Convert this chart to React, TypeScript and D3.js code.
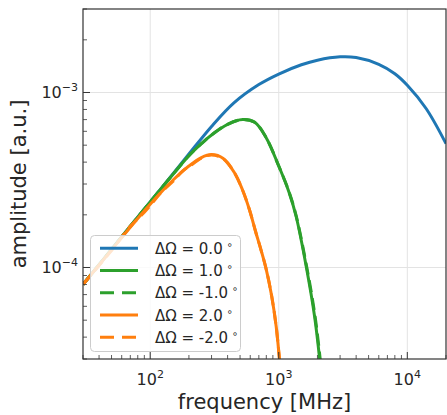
import React from "react";
import * as d3 from "d3";

// ---- data ----
const freq00 = [30, 50, 70, 100, 150, 200, 300, 450, 700, 1000, 1500, 2000, 3000, 4000, 6000, 8000, 10000, 14000, 20000];
const amp00 = [8.0e-5, 1.27e-4, 1.72e-4, 2.37e-4, 3.42e-4, 4.45e-4, 6.4e-4, 8.75e-4, 1.11e-3, 1.275e-3, 1.44e-3, 1.53e-3, 1.6e-3, 1.585e-3, 1.45e-3, 1.28e-3, 1.1e-3, 8.1e-4, 5.1e-4];

const freq10 = [30, 50, 70, 100, 150, 200, 250, 300, 400, 524, 650, 800, 1000, 1200, 1367, 1637, 1900, 2080, 2250];
const amp10 = [8.0e-5, 1.27e-4, 1.72e-4, 2.37e-4, 3.4e-4, 4.35e-4, 5.1e-4, 5.72e-4, 6.58e-4, 7.0e-4, 6.75e-4, 5.5e-4, 3.8e-4, 2.7e-4, 1.95e-4, 1.01e-4, 5.25e-5, 3.0e-5, 1.6e-5];

const freqM10 = [30, 50, 70, 100, 150, 200, 250, 300, 400, 524, 650, 800, 1000, 1200, 1367, 1637, 1900, 2100, 2250];
const ampM10 = [8.0e-5, 1.27e-4, 1.72e-4, 2.37e-4, 3.4e-4, 4.35e-4, 5.1e-4, 5.72e-4, 6.58e-4, 7.0e-4, 6.75e-4, 5.5e-4, 3.8e-4, 2.72e-4, 1.97e-4, 1.04e-4, 5.5e-5, 3.0e-5, 1.8e-5];

const freq20 = [30, 50, 70, 100, 150, 200, 250, 300, 370, 450, 520, 590, 666, 730, 798, 880, 955, 1013, 1060];
const amp20 = [8.0e-5, 1.26e-4, 1.7e-4, 2.3e-4, 3.15e-4, 3.8e-4, 4.25e-4, 4.42e-4, 4.2e-4, 3.5e-4, 2.8e-4, 2.15e-4, 1.57e-4, 1.25e-4, 9.8e-5, 6.9e-5, 4.6e-5, 3.0e-5, 2.2e-5];

const freqM20 = [30, 50, 70, 85, 100, 120, 150, 180, 200, 250, 300, 370, 450, 520, 590, 666, 730, 798, 880, 955, 1013, 1060];
const ampM20 = [8.0e-5, 1.25e-4, 1.72e-4, 1.98e-4, 2.26e-4, 2.66e-4, 3.1e-4, 3.58e-4, 3.76e-4, 4.22e-4, 4.4e-4, 4.18e-4, 3.5e-4, 2.8e-4, 2.15e-4, 1.57e-4, 1.25e-4, 9.8e-5, 6.9e-5, 4.6e-5, 3.0e-5, 2.2e-5];

const seriesLabels = ["ΔΩ = 0.0", "ΔΩ = 1.0", "ΔΩ = -1.0", "ΔΩ = 2.0", "ΔΩ = -2.0"];
const xTickExps = [2, 3, 4];
const yTickExps = [-4, -3];

const W = 447, H = 415;
const L = 83, R = 446, T = 9, B = 359;

export default function App() {
  const x = d3.scaleLog().domain([30, 20000]).range([L, R]);
  const y = d3.scaleLog().domain([3e-5, 3e-3]).range([B, T]);
  const line = d3
    .line<[number, number]>()
    .x((d) => x(d[0]))
    .y((d) => y(d[1]))
    .curve(d3.curveCatmullRom.alpha(0.5));
  const zip = (f: number[], a: number[]) => f.map((v, i) => [v, a[i]] as [number, number]);

  const series = [
    { data: zip(freq00, amp00), color: "#1f77b4", dash: undefined },
    { data: zip(freq10, amp10), color: "#2ca02c", dash: undefined },
    { data: zip(freqM10, ampM10), color: "#2ca02c", dash: "12 6" },
    { data: zip(freq20, amp20), color: "#ff7f0e", dash: undefined },
    { data: zip(freqM20, ampM20), color: "#ff7f0e", dash: "12 6" },
  ];

  const xMinor: number[] = [];
  [10, 100, 1000, 10000].forEach((d) => {
    for (let k = 2; k <= 9; k++) {
      const v = d * k;
      if (v >= 30 && v <= 20000) xMinor.push(v);
    }
  });
  const yMinor: number[] = [];
  [1e-5, 1e-4, 1e-3].forEach((d) => {
    for (let k = 2; k <= 9; k++) {
      const v = d * k;
      if (v >= 3e-5 && v <= 3e-3) yMinor.push(v);
    }
  });

  const font = "DejaVu Sans, sans-serif";
  const textColor = "#262626";
  const legX = 90.5, legY = 235.5, legW = 150, legH = 116;
  const rowY0 = 248.3, rowStep = 22.25;

  return (
    <svg width={W} height={H} style={{ position: "absolute", left: 0, top: 0, background: "#fff" }} fontFamily={font}>
      <defs>
        <clipPath id="plotclip">
          <rect x={L} y={T} width={R - L} height={B - T} />
        </clipPath>
      </defs>
      {/* grid */}
      {xTickExps.map((e) => (
        <line key={"gx" + e} x1={x(10 ** e)} x2={x(10 ** e)} y1={T} y2={B} stroke="#e3e3e3" strokeWidth={1} />
      ))}
      {yTickExps.map((e) => (
        <line key={"gy" + e} x1={L} x2={R} y1={y(10 ** e)} y2={y(10 ** e)} stroke="#e3e3e3" strokeWidth={1} />
      ))}
      {/* series */}
      <g clipPath="url(#plotclip)">
        {series.map((s, i) => (
          <path
            key={i}
            d={line(s.data) || ""}
            fill="none"
            stroke={s.color}
            strokeWidth={3}
            strokeDasharray={s.dash}
            strokeLinejoin="round"
          />
        ))}
      </g>
      {/* ticks */}
      {xTickExps.map((e) => (
        <line key={"xt" + e} x1={x(10 ** e)} x2={x(10 ** e)} y1={B} y2={B - 7} stroke="#333" strokeWidth={1} />
      ))}
      {xMinor.map((v, i) => (
        <line key={"xm" + i} x1={x(v)} x2={x(v)} y1={B} y2={B - 4} stroke="#333" strokeWidth={0.8} />
      ))}
      {yTickExps.map((e) => (
        <line key={"yt" + e} x1={L} x2={L + 7} y1={y(10 ** e)} y2={y(10 ** e)} stroke="#333" strokeWidth={1} />
      ))}
      {yMinor.map((v, i) => (
        <line key={"ym" + i} x1={L} x2={L + 4} y1={y(v)} y2={y(v)} stroke="#333" strokeWidth={0.8} />
      ))}
      {/* spines */}
      <rect x={L} y={T} width={R - L} height={B - T} fill="none" stroke="#333" strokeWidth={1.2} />
      {/* tick labels */}
      {xTickExps.map((e) => (
        <text key={"xl" + e} x={x(10 ** e)} y={385} textAnchor="middle" fontSize={16} fill={textColor}>
          <tspan>10</tspan>
          <tspan dy={-7} fontSize={11}>{e}</tspan>
        </text>
      ))}
      {yTickExps.map((e) => (
        <text key={"yl" + e} x={78} y={y(10 ** e) + 6} textAnchor="end" fontSize={16} fill={textColor}>
          <tspan>10</tspan>
          <tspan dy={-7} fontSize={11}>{"\u2212" + Math.abs(e)}</tspan>
        </text>
      ))}
      {/* axis labels */}
      <text x={(L + R) / 2} y={409} textAnchor="middle" fontSize={21} fill={textColor}>
        frequency [MHz]
      </text>
      <text transform={`translate(26, ${(T + B) / 2}) rotate(-90)`} textAnchor="middle" fontSize={21} fill={textColor}>
        amplitude [a.u.]
      </text>
      {/* legend */}
      <rect x={legX} y={legY} width={legW} height={legH} rx={4} fill="#fff" fillOpacity={0.8} stroke="#cccccc" strokeWidth={1} />
      {series.map((s, i) => {
        const cy = rowY0 + i * rowStep;
        return (
          <g key={"lg" + i}>
            <line x1={100} x2={138} y1={cy} y2={cy} stroke={s.color} strokeWidth={3} strokeDasharray={s.dash ? "14 8" : undefined} />
            <text x={155} y={cy + 5.5} fontSize={15} fill={textColor}>
              {seriesLabels[i]}
              <tspan dx={4} dy={-6} fontSize={10}>∘</tspan>
            </text>
          </g>
        );
      })}
    </svg>
  );
}
